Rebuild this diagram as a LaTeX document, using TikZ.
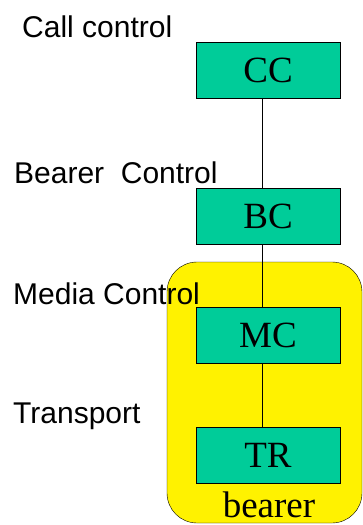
\documentclass[tikz,border=0pt]{standalone}
\usepackage{fontspec}
\setmainfont{Liberation Serif}
\newfontfamily\layerfont{Liberation Sans}
\definecolor{boxgreen}{RGB}{0,204,153}

\begin{document}
\begin{tikzpicture}[x=1pt,y=-1pt,
    unit/.style={draw,fill=boxgreen,minimum width=144pt,minimum height=56pt,inner sep=0pt,font=\fontsize{37}{40}\selectfont},
    layer/.style={anchor=base west,inner sep=0pt,font=\layerfont\fontsize{30}{34}\selectfont}]
      \useasboundingbox (0,0) rectangle (363,525);
      \filldraw[fill=yellow,rounded corners=30pt] (167,262) rectangle (362,523);
      \node[unit] (CC) at (268,70) {CC};
      \node[unit] (BC) at (268,216.5) {BC};
      \node[unit] (MC) at (268,335.5) {MC};
      \node[unit] (TR) at (268,455) {TR};
      \draw ([xshift=-6pt]CC.south)--([xshift=-6pt]BC.north);
      \draw ([xshift=-6pt]BC.south)--([xshift=-6pt]MC.north);
      \draw ([xshift=-6pt]MC.south)--([xshift=-6pt]TR.north);
      \node[anchor=base,inner sep=0pt,font=\fontsize{37}{40}\selectfont] (bearer) at (269,517) {bearer};
      \node[layer] (callctl) at (22,37) {Call control};
      \node[layer] (bearerctl) at (14,183) {Bearer\ \ Control};
      \node[layer] (mediactl) at (13,304) {Media Control};
      \node[layer] (transport) at (13,423) {Transport};
    \end{tikzpicture}
\end{document}
